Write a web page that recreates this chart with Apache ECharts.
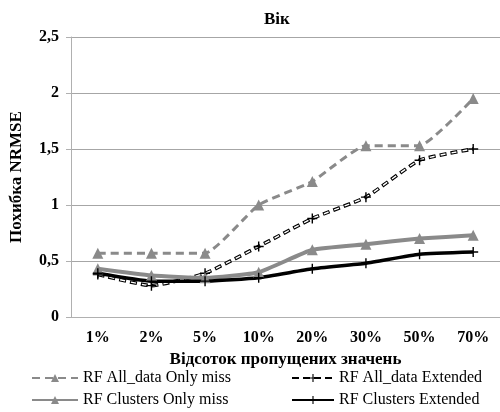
<!DOCTYPE html>
<html>
<head>
  <meta charset="utf-8">
  <title></title>
  <script src="https://cdn.jsdelivr.net/npm/echarts@6/dist/echarts.min.js"></script>
  <style>
    html, body { margin: 0; padding: 0; background: #fff; }
    #chart { width: 500px; height: 412px; }
  </style>
</head>
<body>
<div id="chart"></div>
<script>
  var categories = ['1%', '2%', '5%', '10%', '20%', '30%', '50%', '70%'];
  var allOnlyMiss = [0.57, 0.57, 0.57, 1.0, 1.21, 1.53, 1.53, 1.95];
  var allExtended = [0.38, 0.28, 0.39, 0.63, 0.88, 1.07, 1.40, 1.50];
  var clOnlyMiss = [0.43, 0.37, 0.35, 0.40, 0.60, 0.65, 0.70, 0.73];
  var clExtended = [0.39, 0.32, 0.32, 0.35, 0.43, 0.48, 0.56, 0.58];
  var yTicks = [0, 0.5, 1, 1.5, 2, 2.5];

  var serif = 'Liberation Serif';
  var grey = '#8a8a8a';
  var plus = 'path://M4.3,0h1.4v10h-1.4zM0,4.3h10v1.4h-10z';
  var legendText = { fontFamily: serif, fontSize: 16, color: '#000' };

  // одна легенда на кожен пункт, щоб розставити їх сіткою 2х2
  function legendItem(name, left, top, w) {
    return {
      left: left, top: top, padding: 0, itemWidth: w, itemHeight: 10, itemGap: 0,
      textStyle: legendText, data: [name]
    };
  }

  var chart = echarts.init(document.getElementById('chart'));
  var option = {
    animation: false,
    title: {
      text: 'Вік',
      left: 259,
      top: 6,
      textStyle: { fontFamily: serif, fontSize: 17, fontWeight: 'bold', color: '#000' }
    },
    legend: [
      legendItem('RF All_data Only miss', 31, 370, 46),
      legendItem('RF Clusters Only miss', 31, 392, 46),
      legendItem('RF All_data Extended', 291, 370, 42),
      legendItem('RF Clusters Extended', 291, 392, 42)
    ],
    grid: { left: 71, right: -5, top: 37, bottom: 95 },
    xAxis: {
      type: 'category',
      data: categories,
      name: 'Відсоток пропущених значень',
      nameLocation: 'middle',
      nameGap: 34,
      nameTextStyle: { fontFamily: serif, fontSize: 17, fontWeight: 'bold', color: '#000' },
      axisLine: { lineStyle: { color: '#b0b0b0', width: 1 } },
      axisTick: { length: 5, lineStyle: { color: '#b0b0b0' } },
      axisLabel: { fontFamily: serif, fontSize: 16, fontWeight: 'bold', color: '#000', margin: 13 }
    },
    yAxis: {
      type: 'value',
      min: 0,
      max: 2.5,
      interval: 0.5,
      name: 'Похибка NRMSE',
      nameLocation: 'middle',
      nameGap: 46,
      nameTextStyle: { fontFamily: serif, fontSize: 17, fontWeight: 'bold', color: '#000' },
      axisLine: { show: true, lineStyle: { color: '#b0b0b0', width: 1 } },
      axisTick: { show: true, length: 5, lineStyle: { color: '#b0b0b0' } },
      splitLine: { lineStyle: { color: '#a6a6a6', width: 1 } },
      axisLabel: {
        fontFamily: serif, fontSize: 16, fontWeight: 'bold', color: '#000', margin: 12,
        formatter: function (v) { return yTicks.indexOf(v) >= 0 ? String(v).replace('.', ',') : ''; }
      }
    },
    series: [
      {
        name: 'RF All_data Only miss',
        type: 'line',
        data: allOnlyMiss,
        smooth: 0.15,
        symbol: 'triangle',
        symbolSize: 11,
        itemStyle: { color: grey },
        lineStyle: { color: grey, width: 3, type: [8, 5] }
      },
      {
        name: 'RF All_data Extended',
        type: 'line',
        data: allExtended,
        smooth: 0.15,
        symbol: plus,
        symbolSize: 10,
        itemStyle: { color: '#000' },
        lineStyle: { color: '#000', width: 3.6, type: [7, 4] }
      },
      {
        name: 'allExtendedInner',
        type: 'line',
        data: allExtended,
        smooth: 0.15,
        symbol: 'none',
        silent: true,
        z: 3,
        lineStyle: { color: '#fff', width: 1.4, type: [5, 6], dashOffset: -1 }
      },
      {
        name: 'RF Clusters Only miss',
        type: 'line',
        data: clOnlyMiss,
        smooth: 0.15,
        symbol: 'triangle',
        symbolSize: 11,
        itemStyle: { color: grey },
        lineStyle: { color: grey, width: 4 }
      },
      {
        name: 'RF Clusters Extended',
        type: 'line',
        data: clExtended,
        smooth: 0.15,
        symbol: plus,
        symbolSize: 10,
        itemStyle: { color: '#000' },
        lineStyle: { color: '#000', width: 3.5 }
      }
    ]
  };
  chart.setOption(option);
</script>
</body>
</html>
